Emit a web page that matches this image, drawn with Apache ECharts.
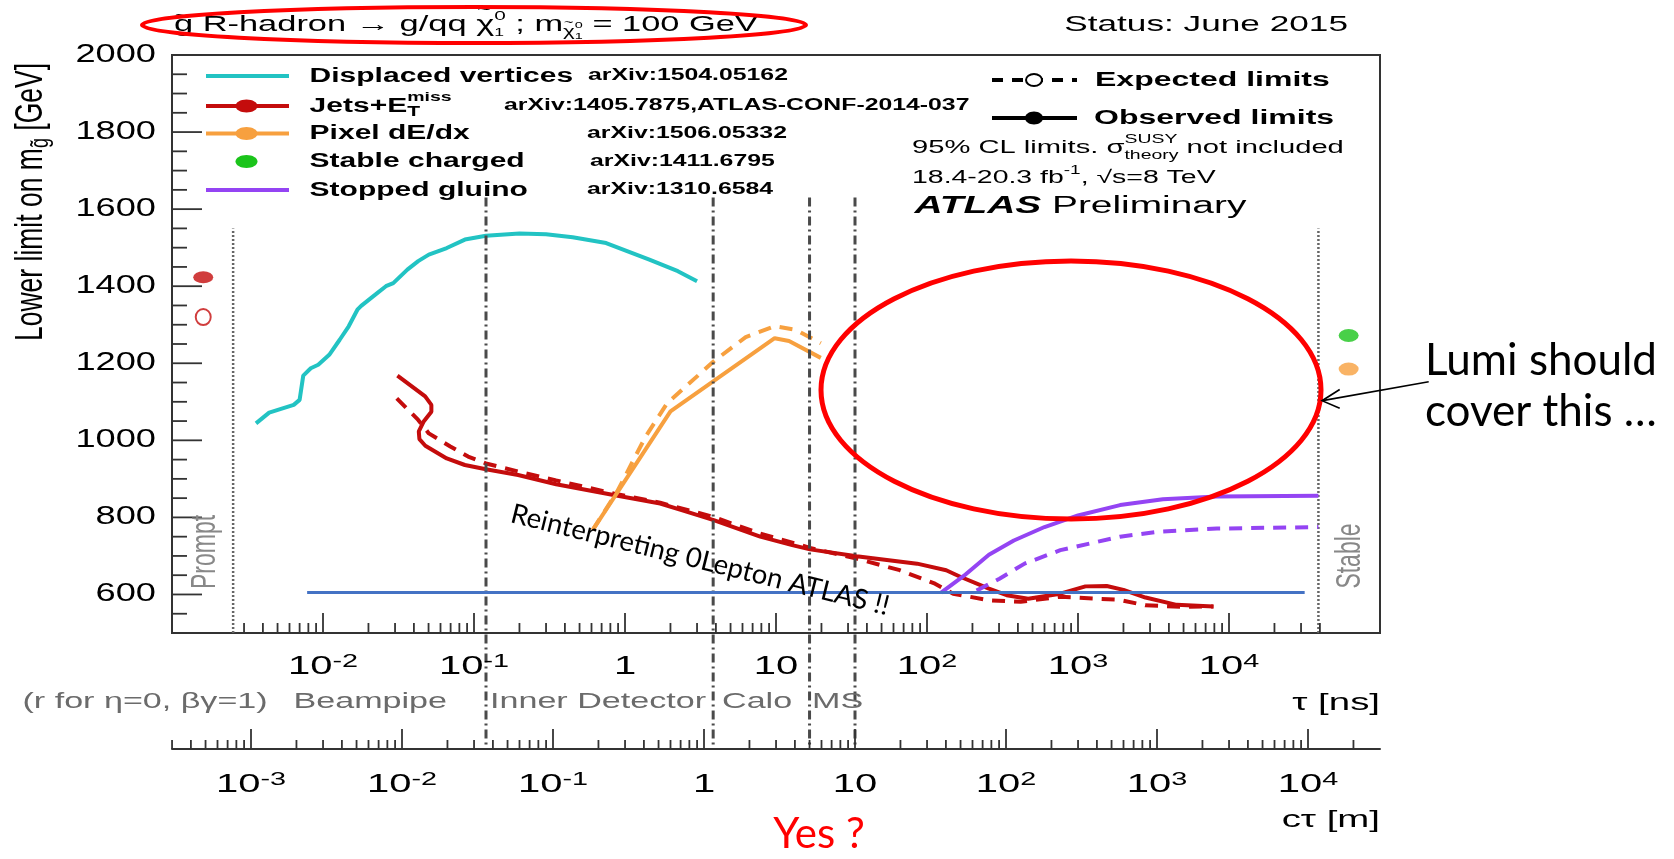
<!DOCTYPE html>
<html>
<head>
<meta charset="utf-8">
<title>R-hadron lifetime limits</title>
<script src="https://cdn.jsdelivr.net/npm/echarts@6.0.0/dist/echarts.min.js"></script>
<style>
  html, body { margin: 0; padding: 0; background: #fff; }
  #chart { width: 1674px; height: 859px; }
</style>
</head>
<body>
<div id="chart"></div>
<script>
// ---- axis ranges ---------------------------------------------------------
const TAU_MIN = 1e-3, TAU_MAX = 1e5;         // lifetime tau [ns]
const C_M_PER_NS = 0.299792458;              // c in m/ns, for the c*tau scale
const MASS_MIN = 500, MASS_MAX = 2000;       // gluino mass [GeV]

// ---- limit curves: [tau (ns), lower limit on gluino mass (GeV)] -----------
const displacedObs = [[0.0036, 1044], [0.0044, 1072], [0.0054, 1083], [0.0064, 1092], [0.0070, 1105],
  [0.0074, 1168], [0.0083, 1187], [0.0093, 1196], [0.0110, 1222], [0.0129, 1261], [0.0148, 1296],
  [0.0169, 1339], [0.0179, 1349], [0.0222, 1378], [0.0261, 1400], [0.0292, 1408], [0.0362, 1443],
  [0.0427, 1465], [0.0502, 1482], [0.066, 1499], [0.087, 1521], [0.12, 1531], [0.2, 1537], [0.3, 1535],
  [0.45, 1527], [0.75, 1512], [1.45, 1469], [2.24, 1439], [3.0, 1413]];

const jetsObs = [[0.0311, 1168], [0.0475, 1114], [0.0522, 1092], [0.0522, 1074], [0.0463, 1048],
  [0.0431, 1023], [0.0435, 1003], [0.0476, 986], [0.066, 953], [0.087, 936], [0.12, 925], [0.196, 910],
  [0.35, 886], [0.84, 858], [1.71, 836], [2.37, 819], [3.87, 793], [7.86, 750], [12.8, 728], [16.8, 717],
  [34.2, 699], [86, 680], [134, 663], [166, 646], [257, 615], [337, 598], [468, 589], [764, 602],
  [1120, 621], [1550, 622], [2000, 612], [2800, 592], [4500, 573], [7900, 569]];

const jetsExp = [[0.0308, 1109], [0.0427, 1053], [0.0502, 1018], [0.0697, 984], [0.0914, 958],
  [0.12, 940], [0.196, 919], [0.35, 896], [0.84, 862], [1.71, 838], [3.87, 801], [7.86, 758], [16.8, 721],
  [34.2, 693], [66, 663], [113, 628], [149, 602], [257, 585], [417, 581], [764, 594], [1320, 589],
  [1820, 587], [2790, 572], [4810, 568], [7880, 569]];

const pixelObs = [[0.62, 771], [2.0, 1075], [9.8, 1265], [12.2, 1258], [19.8, 1214]];
const pixelExp = [[0.61, 767], [0.89, 868], [1.37, 1010], [1.9, 1096], [3.87, 1205], [6.3, 1268],
  [9.8, 1296], [13.5, 1287], [19.8, 1252]];

const stoppedObs = [[124, 605], [175, 648], [257, 703], [376, 740], [600, 775], [1000, 805],
  [1900, 832], [3650, 847], [8300, 854], [39100, 856]];
const stoppedExp = [[213, 610], [302, 641], [443, 680], [764, 715], [1900, 750], [3470, 763],
  [8320, 771], [39100, 775]];

// prompt-decay and stable-particle limits, shown as single points
const jetsPromptObs = [[0.00161, 1423]];
const jetsPromptExp = [[0.00161, 1320]];
const stableChargedObs = [[62000, 1272]];
const pixelStableObs = [[62000, 1185]];

// lifetime boundaries of the "Prompt" and "Stable" regions [ns]
const promptTau = 0.00254;
const stableTau = 39100;
const regionLineTop = 1550;

// hand-drawn 0-lepton reinterpretation line [tau (ns), mass (GeV)]
const zeroLeptonLine = [[0.00785, 605], [31700, 605]];

// detector boundaries in c*tau [m] (beampipe, inner detector, calorimeter, muon spectrometer)
const detectorRadii = [0.036, 1.15, 5.0, 10.0];
const detectorLineTop = 1630;

// tick labels
const tauLabelValues = [1e-2, 1e-1, 1, 10, 1e2, 1e3, 1e4];
const tauLabelTexts = ['10^-2', '10^-1', '1', '10', '10^2', '10^3', '10^4'];
const ctauLabelValues = [1e-3, 1e-2, 1e-1, 1, 10, 1e2, 1e3, 1e4];
const ctauLabelTexts = ['10^-3', '10^-2', '10^-1', '1', '10', '10^2', '10^3', '10^4'];
const massLabelValues = [600, 800, 1000, 1200, 1400, 1600, 1800, 2000];

// ---- styling ----------------------------------------------------------------
const COL = {
  cyan: '#22C3C3', red: '#C40C0C', orange: '#F7A03F', green: '#1BC41B', purple: '#9444F3',
  blue: '#4472C4', frame: '#333333', annot: '#FF0000'
};
const FONT = 'Liberation Sans';
const CT_OFFSET = 116;           // distance of the c*tau axis below the tau axis
const LINE_W = 4;
const DASH = [13, 9];

// minor/major ticks of a log axis, one entry per k * 10^d
function decadeTicks(lo, hi) {
  const out = [];
  for (let d = lo; d <= hi; d++) {
    for (let k = 1; k <= 9; k++) out.push([k * Math.pow(10, d), k === 1 ? 1 : 0]);
  }
  return out;
}
function richPow(s) {
  const i = s.indexOf('^');
  return i < 0 ? '{b|' + s + '}' : '{b|' + s.slice(0, i) + '}{s|' + s.slice(i + 1) + '}';
}
const TICK_RICH = {
  b: { fontSize: 25, fontFamily: FONT, lineHeight: 28, fill: '#000' },
  s: { fontSize: 18, fontFamily: FONT, lineHeight: 22, verticalAlign: 'top', fill: '#000' }
};

const tauTicks = decadeTicks(-3, 4).filter(t => t[0] > promptTau && t[0] < stableTau * 1.05);
const ctauTicks = decadeTicks(-4, 4).filter(t => t[0] >= TAU_MIN * C_M_PER_NS && t[0] <= TAU_MAX * C_M_PER_NS);
const massTicks = [];
for (let m = MASS_MIN; m <= MASS_MAX; m += 50) massTicks.push([m, m % 200 === 0 ? 1 : 0]);

// ---- text helpers --------------------------------------------------------------
const meas = document.createElement('canvas').getContext('2d');
function textWidth(t, size, weight, style) {
  meas.font = (style || 'normal') + ' ' + (weight || 'normal') + ' ' + size + 'px "' + FONT + '"';
  return meas.measureText(t).width;
}
function textEl(t, x, y, o) {
  o = o || {};
  return {
    type: 'text', x: x, y: y, z: o.z || 50, scaleX: o.sx || 1, scaleY: o.sy || 1, rotation: o.rot || 0,
    silent: true,
    style: {
      text: t, fontSize: o.size || 20, fontFamily: o.family || FONT, fontWeight: o.weight || 'normal',
      fontStyle: o.style || 'normal', fill: o.fill || '#000', align: o.align || 'left',
      verticalAlign: o.valign || 'middle', rich: o.rich
    }
  };
}
// lays out pieces left to right; a piece may stack several parts (super/subscripts, accents)
function textRun(x, y, pieces, sx, base) {
  const out = [];
  let cx = x;
  pieces.forEach(p => {
    const parts = p.stack || [p];
    let w = 0;
    parts.forEach(q => {
      const o = Object.assign({}, base, q, { sx: sx });
      out.push(textEl(q.t, cx + (q.dx || 0) * sx, y + (q.dy || 0), o));
      if (!q.accent) w = Math.max(w, textWidth(q.t, o.size, o.weight, o.style) * sx);
    });
    cx += w;
  });
  return out;
}

// ---- legend and annotations ---------------------------------------------------
const graphics = [];
const legendRows = [
  { name: [{ t: 'Displaced vertices' }], ref: 'arXiv:1504.05162', color: COL.cyan, line: true, dot: false, y: 76, refX: 588 },
  { name: [{ t: 'Jets+E' }, { stack: [{ t: 'miss', size: 13, dy: -9 }, { t: 'T', size: 14, dy: 6 }] }],
    ref: 'arXiv:1405.7875,ATLAS-CONF-2014-037', color: COL.red, line: true, dot: true, y: 106, refX: 504 },
  { name: [{ t: 'Pixel dE/dx' }], ref: 'arXiv:1506.05332', color: COL.orange, line: true, dot: true, y: 133.5, refX: 587 },
  { name: [{ t: 'Stable charged' }], ref: 'arXiv:1411.6795', color: COL.green, line: false, dot: true, y: 161.5, refX: 590 },
  { name: [{ t: 'Stopped gluino' }], ref: 'arXiv:1310.6584', color: COL.purple, line: true, dot: false, y: 190, refX: 587 }
];
legendRows.forEach(r => {
  if (r.line) graphics.push({ type: 'line', z: 40, silent: true, shape: { x1: 206, y1: r.y, x2: 289, y2: r.y },
    style: { stroke: r.color, lineWidth: LINE_W } });
  if (r.dot) graphics.push({ type: 'ellipse', z: 41, silent: true, shape: { cx: 246.5, cy: r.y, rx: 11, ry: 6.5 },
    style: { fill: r.color, stroke: null } });
  graphics.push(...textRun(309.6, r.y, r.name, 1.5, { size: 20, weight: 'bold' }));
  graphics.push(textEl(r.ref, r.refX, r.y, { size: 16, weight: 'bold', sx: 1.55 }));
});

// expected / observed key
graphics.push({ type: 'line', z: 40, silent: true, shape: { x1: 992, y1: 80, x2: 1077, y2: 80 },
  style: { stroke: '#000', lineWidth: 4, lineDash: [11, 9] } });
graphics.push({ type: 'ellipse', z: 41, silent: true, shape: { cx: 1034, cy: 80, rx: 8, ry: 6 },
  style: { fill: '#fff', stroke: '#000', lineWidth: 2 } });
graphics.push({ type: 'line', z: 40, silent: true, shape: { x1: 992, y1: 118, x2: 1077, y2: 118 },
  style: { stroke: '#000', lineWidth: 4 } });
graphics.push({ type: 'ellipse', z: 41, silent: true, shape: { cx: 1034, cy: 118, rx: 9, ry: 6.5 },
  style: { fill: '#000', stroke: null } });
graphics.push(textEl('Expected limits', 1095, 80, { size: 20, weight: 'bold', sx: 1.6 }));
graphics.push(textEl('Observed limits', 1094, 118, { size: 20, weight: 'bold', sx: 1.6 }));

graphics.push(...textRun(912, 148, [
  { t: '95% CL limits. \u03C3' },
  { stack: [{ t: 'SUSY', size: 12, dy: -8 }, { t: 'theory', size: 12, dy: 8 }] },
  { t: ' not included' }
], 1.62, { size: 18 }));
graphics.push(...textRun(912, 178, [
  { t: '18.4-20.3 fb' }, { t: '-1', size: 12, dy: -7 }, { t: ', \u221As=8 TeV' }
], 1.58, { size: 18 }));
graphics.push(...textRun(914.5, 206.5, [
  { t: 'ATLAS', weight: 'bold', style: 'italic' }, { t: ' Preliminary' }
], 1.69, { size: 23 }));

// title and status
graphics.push(...textRun(174, 25, [
  { stack: [{ t: 'g' }, { t: '~', size: 15, dx: 0.5, dy: -9, accent: true }] },
  { t: ' R-hadron \u2192 g/qq ' },
  { stack: [{ t: '\u03C7' }, { t: '~', size: 15, dx: 0.5, dy: -15, accent: true }] },
  { stack: [{ t: '0', size: 13, dy: -9 }, { t: '1', size: 11, dy: 8 }] },
  { t: ' ; m' },
  { stack: [{ t: '\u03C7', size: 14, dy: 7 }, { t: '~', size: 10, dx: 0.5, dy: -2, accent: true }] },
  { stack: [{ t: '0', size: 9, dy: 1 }, { t: '1', size: 9, dy: 12 }] },
  { t: ' = 100 GeV' }
], 1.6, { size: 21.5 }));
graphics.push(textEl('Status: June 2015', 1348, 24.5, { size: 22, sx: 1.6, align: 'right' }));

// axis titles
graphics.push(textEl('{n|Lower limit on m}{s|g\u0303}{n| [GeV]}', 31, 202, {
  rot: Math.PI / 2, sy: 1.45, align: 'center',
  rich: { n: { fontSize: 26.5, fontFamily: FONT, fill: '#000', lineHeight: 31 },
          s: { fontSize: 18, fontFamily: FONT, fill: '#000', lineHeight: 31, verticalAlign: 'bottom' } }
}));
graphics.push(textEl('\u03C4 [ns]', 1380, 703, { size: 24, sx: 1.6, align: 'right' }));
graphics.push(textEl('c\u03C4 [m]', 1380, 820, { size: 24, sx: 1.6, align: 'right' }));

// detector region names
const GRAY = '#6b6b6b';
graphics.push(textEl('(r for \u03B7=0, \u03B2\u03B3=1)', 22.5, 702, { size: 22, sx: 1.55, fill: GRAY }));
graphics.push(textEl('Beampipe', 293.5, 702, { size: 22, sx: 1.55, fill: GRAY }));
graphics.push(textEl('Inner Detector', 490, 702, { size: 22, sx: 1.55, fill: GRAY }));
graphics.push(textEl('Calo', 722, 702, { size: 22, sx: 1.55, fill: GRAY }));
graphics.push(textEl('MS', 812, 702, { size: 22, sx: 1.55, fill: GRAY }));
graphics.push(textEl('Prompt', 205, 552, { size: 23, sy: 1.5, rot: Math.PI / 2, align: 'center', fill: '#888' }));
graphics.push(textEl('Stable', 1350, 556, { size: 23, sy: 1.5, rot: Math.PI / 2, align: 'center', fill: '#888' }));

// slide annotations
graphics.push({ type: 'ellipse', z: 100, silent: true, shape: { cx: 474, cy: 25, rx: 332, ry: 18 },
  style: { fill: 'none', stroke: COL.annot, lineWidth: 4 } });
graphics.push({ type: 'ellipse', z: 100, silent: true, shape: { cx: 1071, cy: 390, rx: 250, ry: 129 },
  style: { fill: 'none', stroke: COL.annot, lineWidth: 5 } });
graphics.push({ type: 'line', z: 100, silent: true, shape: { x1: 1428.7, y1: 381.7, x2: 1322.5, y2: 400.6 },
  style: { stroke: '#000', lineWidth: 1.6 } });
graphics.push({ type: 'polyline', z: 100, silent: true,
  shape: { points: [[1339.7, 389.5], [1322, 400.7], [1339.7, 408.3]] },
  style: { stroke: '#000', lineWidth: 1.6, fill: 'none' } });
graphics.push(textEl('Lumi should', 1425, 361, { size: 44, family: 'Lato', z: 100 }));
graphics.push(textEl('cover this \u2026', 1425, 412, { size: 44, family: 'Lato', z: 100 }));
graphics.push(textEl('Yes ?', 819, 834, { size: 42, family: 'Lato', align: 'center', fill: COL.annot, z: 100 }));
graphics.push(textEl('Reinterpreting 0Lepton ATLAS !!', 700, 560, { size: 27.5, family: 'Lato', align: 'center',
  rot: -0.2426, z: 100 }));

// ---- series ---------------------------------------------------------------------
function curve(name, data, color, dashed) {
  return { type: 'line', name: name, data: data, symbol: 'none', smooth: false, z: 3, silent: true,
    lineStyle: { color: color, width: LINE_W, type: dashed ? DASH : 'solid' } };
}
function dots(name, data, color, size, open) {
  return { type: 'scatter', name: name, data: data, symbol: 'circle', symbolSize: size, z: 4, silent: true,
    itemStyle: open ? { color: '#fff', borderColor: color, borderWidth: 2 } : { color: color } };
}
function tickSeries(name, xAxisIndex, data, fn) {
  return { type: 'custom', name: name, coordinateSystem: 'cartesian2d', xAxisIndex: xAxisIndex, yAxisIndex: 0,
    data: data, silent: true, z: 5, renderItem: fn };
}
const TICK_STYLE = { stroke: COL.frame, lineWidth: 1.8 };

const series = [
  // region boundaries
  { type: 'line', name: 'prompt', data: [[promptTau, MASS_MIN], [promptTau, regionLineTop]], symbol: 'none', z: 1,
    silent: true, lineStyle: { color: '#666', width: 2.5, type: [2, 2] } },
  { type: 'line', name: 'stable', data: [[stableTau, MASS_MIN], [stableTau, regionLineTop]], symbol: 'none', z: 1,
    silent: true, lineStyle: { color: '#666', width: 2.5, type: [2, 2] } },
  tickSeries('detector', 1, detectorRadii.map(r => [r, MASS_MIN]), (p, api) => {
    const top = api.coord([api.value(0), detectorLineTop]);
    const bot = api.coord([api.value(0), MASS_MIN]);
    return { type: 'line', shape: { x1: top[0], y1: top[1], x2: bot[0], y2: bot[1] + CT_OFFSET - 2 },
      style: { stroke: '#4a4a4a', lineWidth: 3, lineDash: [9, 4, 2, 4] } };
  }),

  curve('Displaced vertices', displacedObs, COL.cyan, false),
  curve('Jets+MET observed', jetsObs, COL.red, false),
  curve('Jets+MET expected', jetsExp, COL.red, true),
  curve('Pixel dE/dx observed', pixelObs, COL.orange, false),
  curve('Pixel dE/dx expected', pixelExp, COL.orange, true),
  curve('Stopped gluino observed', stoppedObs, COL.purple, false),
  curve('Stopped gluino expected', stoppedExp, COL.purple, true),
  dots('Jets+MET prompt observed', jetsPromptObs, COL.red, [20, 12], false),
  dots('Jets+MET prompt expected', jetsPromptExp, COL.red, [15, 16], true),
  dots('Stable charged', stableChargedObs, COL.green, [20, 13], false),
  dots('Pixel dE/dx stable', pixelStableObs, COL.orange, [20, 13], false),
  { type: 'line', name: '0-lepton', data: zeroLeptonLine, symbol: 'none', z: 6, silent: true,
    lineStyle: { color: COL.blue, width: 3 } },

  // axis ticks, drawn inward
  tickSeries('tau ticks', 0, tauTicks, (p, api) => {
    const c = api.coord([api.value(0), MASS_MIN]);
    const len = api.value(1) ? 20 : 10;
    return { type: 'line', shape: { x1: c[0], y1: c[1], x2: c[0], y2: c[1] - len }, style: TICK_STYLE };
  }),
  tickSeries('ctau ticks', 1, ctauTicks, (p, api) => {
    const c = api.coord([api.value(0), MASS_MIN]);
    const y = c[1] + CT_OFFSET;
    const len = api.value(1) ? 20 : 9;
    return { type: 'line', shape: { x1: c[0], y1: y, x2: c[0], y2: y - len }, style: TICK_STYLE };
  }),
  tickSeries('mass ticks', 0, massTicks.map(t => [TAU_MIN, t[0], t[1]]), (p, api) => {
    const c = api.coord([TAU_MIN, api.value(1)]);
    const len = api.value(2) ? 30 : 15;
    return { type: 'line', shape: { x1: c[0], y1: c[1], x2: c[0] + len, y2: c[1] }, style: TICK_STYLE };
  }),

  // tick labels
  tickSeries('tau labels', 0, tauLabelValues.map((v, i) => [v, MASS_MIN, i]), (p, api) => {
    const c = api.coord([api.value(0), MASS_MIN]);
    return { type: 'text', x: c[0], y: c[1] + 34, scaleX: 1.6,
      style: { text: richPow(tauLabelTexts[api.value(2)]), rich: TICK_RICH, align: 'center', verticalAlign: 'middle' } };
  }),
  tickSeries('ctau labels', 1, ctauLabelValues.map((v, i) => [v, MASS_MIN, i]), (p, api) => {
    const c = api.coord([api.value(0), MASS_MIN]);
    return { type: 'text', x: c[0], y: c[1] + CT_OFFSET + 36, scaleX: 1.6,
      style: { text: richPow(ctauLabelTexts[api.value(2)]), rich: TICK_RICH, align: 'center', verticalAlign: 'middle' } };
  }),
  tickSeries('mass labels', 0, massLabelValues.map(v => [TAU_MIN, v]), (p, api) => {
    const c = api.coord([TAU_MIN, api.value(1)]);
    return { type: 'text', x: c[0] - 16, y: c[1], scaleX: 1.42,
      style: { text: String(api.value(1)), fontSize: 25.5, fontFamily: FONT, fill: '#000', align: 'right', verticalAlign: 'middle' } };
  })
];

const chart = echarts.init(document.getElementById('chart'), null, { renderer: 'canvas' });
chart.setOption({
  animation: false,
  backgroundColor: '#fff',
  grid: { left: 172, right: 294, top: 55, bottom: 226, show: true, borderColor: COL.frame, borderWidth: 2,
    backgroundColor: 'transparent' },
  xAxis: [
    { type: 'log', logBase: 10, min: TAU_MIN, max: TAU_MAX, position: 'bottom', splitNumber: 8,
      axisLine: { show: true, lineStyle: { color: COL.frame, width: 2 } },
      axisTick: { show: false }, axisLabel: { show: false }, splitLine: { show: false } },
    { type: 'log', logBase: 10, min: TAU_MIN * C_M_PER_NS, max: TAU_MAX * C_M_PER_NS, position: 'bottom',
      offset: CT_OFFSET,
      axisLine: { show: true, onZero: false, lineStyle: { color: COL.frame, width: 2 } },
      axisTick: { show: false }, axisLabel: { show: false }, splitLine: { show: false } }
  ],
  yAxis: { type: 'value', min: MASS_MIN, max: MASS_MAX, interval: 100,
    axisLine: { show: true, lineStyle: { color: COL.frame, width: 2 } },
    axisTick: { show: false }, axisLabel: { show: false }, splitLine: { show: false } },
  series: series,
  graphic: { elements: graphics }
});
</script>
</body>
</html>
